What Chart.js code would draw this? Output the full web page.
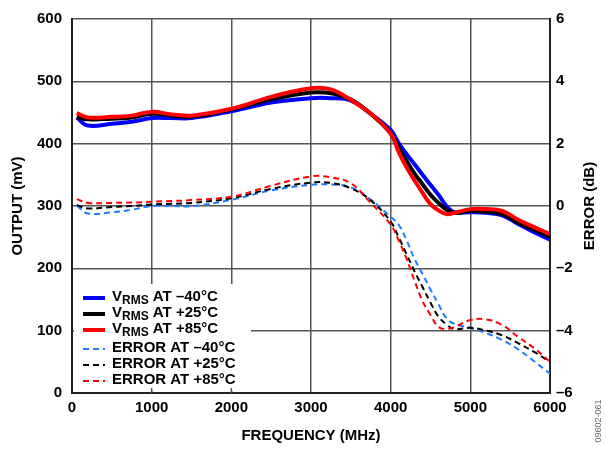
<!DOCTYPE html>
<html>
<head>
<meta charset="utf-8">
<script src="https://cdn.jsdelivr.net/npm/chart.js@4/dist/chart.umd.min.js"></script>
<style>
  html, body { margin: 0; padding: 0; background: #ffffff; }
  #wrap { width: 606px; height: 450px; }
</style>
</head>
<body>
<div id="wrap"><canvas id="chart" width="606" height="450"></canvas></div>
<script>
// frequency points (MHz) shared by all curves
const freq = [60, 200, 500, 750, 1000, 1250, 1500, 2000, 2500, 3000, 3250, 3500, 3750, 4000,
              4100, 4200, 4300, 4400, 4500, 4600, 4700, 4800, 5000, 5200, 5400, 5600, 5800, 6000];

// output voltage (mV), left axis
const vrmsM40 = [442, 429, 432, 435, 441, 441, 441, 452, 466, 473, 473, 469, 448, 422,
                 401, 383, 367, 350, 334, 318, 300, 290, 290, 289, 285, 271, 258, 246];
const vrmsP25 = [442, 439, 440, 442, 448, 445, 443, 455, 471, 482, 481, 471, 448, 417,
                 394, 372, 352, 335, 318, 305, 294, 289, 292, 291, 287, 273, 262, 251];
const vrmsP85 = [449, 442, 443, 445, 451, 447, 445, 456, 475, 489, 487, 470, 448, 416,
                 387, 362, 341, 321, 303, 293, 287, 289, 295, 295, 292, 278, 266, 255];

// error (dB), right axis
const errM40 = [0.01, -0.24, -0.20, -0.12, 0.00, 0.00, -0.01, 0.20, 0.50, 0.68, 0.69, 0.60, 0.20, -0.35,
                -0.60, -1.10, -1.70, -2.18, -2.68, -3.15, -3.60, -3.78, -3.91, -4.08, -4.30, -4.60, -4.98, -5.38];
const errP25 = [0.03, -0.08, -0.03, 0.00, 0.05, 0.07, 0.10, 0.25, 0.55, 0.75, 0.74, 0.57, 0.18, -0.50,
                -1.00, -1.55, -2.10, -2.60, -3.10, -3.55, -3.80, -3.95, -3.91, -4.00, -4.15, -4.40, -4.68, -5.00];
const errP85 = [0.22, 0.10, 0.10, 0.11, 0.14, 0.16, 0.19, 0.30, 0.65, 0.95, 0.92, 0.73, 0.10, -0.60,
                -1.10, -1.70, -2.40, -3.05, -3.50, -3.88, -3.95, -3.88, -3.66, -3.64, -3.82, -4.20, -4.56, -5.00];

const legendLabels = ['AT \u201340\u00B0C', 'AT +25\u00B0C', 'AT +85\u00B0C'];

const FONT = "'Liberation Sans', Arial, Helvetica, sans-serif";

function toPoints(values) {
    return freq.map((f, i) => ({ x: f, y: values[i] }));
}

function solid(values, color, order) {
    return {
        data: toPoints(values), yAxisID: 'y', borderColor: color, borderWidth: 4,
        pointRadius: 0, tension: 0.4, order: order
    };
}

function dashed(values, color, order) {
    return {
        data: toPoints(values), yAxisID: 'y2', borderColor: color, borderWidth: 2,
        borderDash: [6, 4], pointRadius: 0, tension: 0.4, order: order
    };
}

// legend box in the lower left corner, plus the right axis title and figure number
const extras = {
    id: 'extras',
    afterDatasetsDraw(chart) {
        const { ctx, chartArea, scales } = chart;
        const ds = chart.data.datasets;
        const left = chartArea.left, bottom = chartArea.bottom;

        ctx.save();
        ctx.fillStyle = '#ffffff';
        ctx.fillRect(left + 2, bottom - 109, 177, 107);

        // small ticks left where the grid is covered
        ctx.strokeStyle = '#555';
        ctx.lineWidth = 1.5;
        [1000, 2000].forEach(v => {
            const px = scales.x.getPixelForValue(v);
            ctx.beginPath();
            ctx.moveTo(px, bottom - 5);
            ctx.lineTo(px, bottom);
            ctx.stroke();
        });

        const rows = [bottom - 96, bottom - 80, bottom - 64, bottom - 45, bottom - 29, bottom - 13];
        ctx.fillStyle = '#000';
        ctx.textBaseline = 'middle';
        ctx.textAlign = 'left';
        for (let i = 0; i < 6; i++) {
            const d = ds[i];
            const y = rows[i];
            ctx.strokeStyle = d.borderColor;
            ctx.lineWidth = d.borderWidth;
            ctx.setLineDash(d.borderDash || []);
            ctx.beginPath();
            ctx.moveTo(left + 11, y + 1);
            ctx.lineTo(left + 33, y + 1);
            ctx.stroke();
            ctx.setLineDash([]);

            let x = left + 40;
            if (i < 3) {
                ctx.font = 'bold 15px ' + FONT;
                ctx.fillText('V', x, y);
                x += ctx.measureText('V').width;
                ctx.font = 'bold 12px ' + FONT;
                ctx.fillText('RMS', x, y + 4);
                x += ctx.measureText('RMS').width;
                ctx.font = 'bold 15px ' + FONT;
                ctx.fillText(' ' + legendLabels[i], x, y);
            } else {
                ctx.font = 'bold 15px ' + FONT;
                ctx.fillText('ERROR ' + legendLabels[i - 3], x, y);
            }
        }
        ctx.restore();
    },
    afterDraw(chart) {
        const { ctx, chartArea } = chart;
        ctx.save();
        ctx.fillStyle = '#000';
        ctx.font = 'bold 15px ' + FONT;
        ctx.textAlign = 'center';
        ctx.textBaseline = 'middle';
        ctx.translate(590, (chartArea.top + chartArea.bottom) / 2);
        ctx.rotate(-Math.PI / 2);
        ctx.fillText('ERROR (dB)', 0, 0);
        ctx.restore();

        ctx.save();
        ctx.fillStyle = '#666';
        ctx.font = '9px ' + FONT;
        ctx.textAlign = 'center';
        ctx.textBaseline = 'middle';
        ctx.translate(599, 421);
        ctx.rotate(-Math.PI / 2);
        ctx.fillText('09602-061', 0, 0);
        ctx.restore();
    }
};

const gridStyle = { color: '#555', lineWidth: 1.5, drawTicks: false };
const tickFont = { family: FONT, size: 15, weight: 'bold' };

new Chart(document.getElementById('chart'), {
    type: 'line',
    data: {
        datasets: [
            solid(vrmsM40, '#0000ff', 3),
            solid(vrmsP25, '#000000', 2),
            solid(vrmsP85, '#ff0000', 1),
            dashed(errM40, '#1e7bff', 6),
            dashed(errP25, '#000000', 5),
            dashed(errP85, '#ff0000', 4)
        ]
    },
    options: {
        responsive: false,
        animation: false,
        devicePixelRatio: 1,
        layout: { padding: { top: 12, left: 0, right: 0, bottom: 0 } },
        plugins: { legend: { display: false }, tooltip: { enabled: false } },
        scales: {
            x: {
                type: 'linear', min: 0, max: 6000,
                grid: gridStyle,
                border: { color: '#222', width: 2 },
                ticks: { stepSize: 1000, color: '#000', font: tickFont, padding: 6, maxRotation: 0,
                         callback: v => String(v) },
                title: { display: true, text: 'FREQUENCY (MHz)', color: '#000', font: tickFont, padding: { top: 0, bottom: 5 } },
                afterFit: s => { s.height = 57; }
            },
            y: {
                position: 'left', min: 0, max: 600,
                grid: gridStyle,
                border: { color: '#222', width: 2 },
                ticks: { stepSize: 100, color: '#000', font: tickFont, padding: 10 },
                title: { display: true, text: 'OUTPUT (mV)', color: '#000', font: tickFont, padding: { top: 9, bottom: 0 } },
                afterFit: s => { s.width = 72; }
            },
            y2: {
                position: 'right', min: -6, max: 6,
                grid: { drawOnChartArea: false, drawTicks: false },
                border: { color: '#222', width: 2 },
                ticks: {
                    stepSize: 2, color: '#000', font: tickFont, padding: 6,
                    callback: v => v < 0 ? '\u2013' + Math.abs(v) : String(v)
                },
                afterFit: s => { s.width = 56; }
            }
        }
    },
    plugins: [extras]
});
</script>
</body>
</html>
